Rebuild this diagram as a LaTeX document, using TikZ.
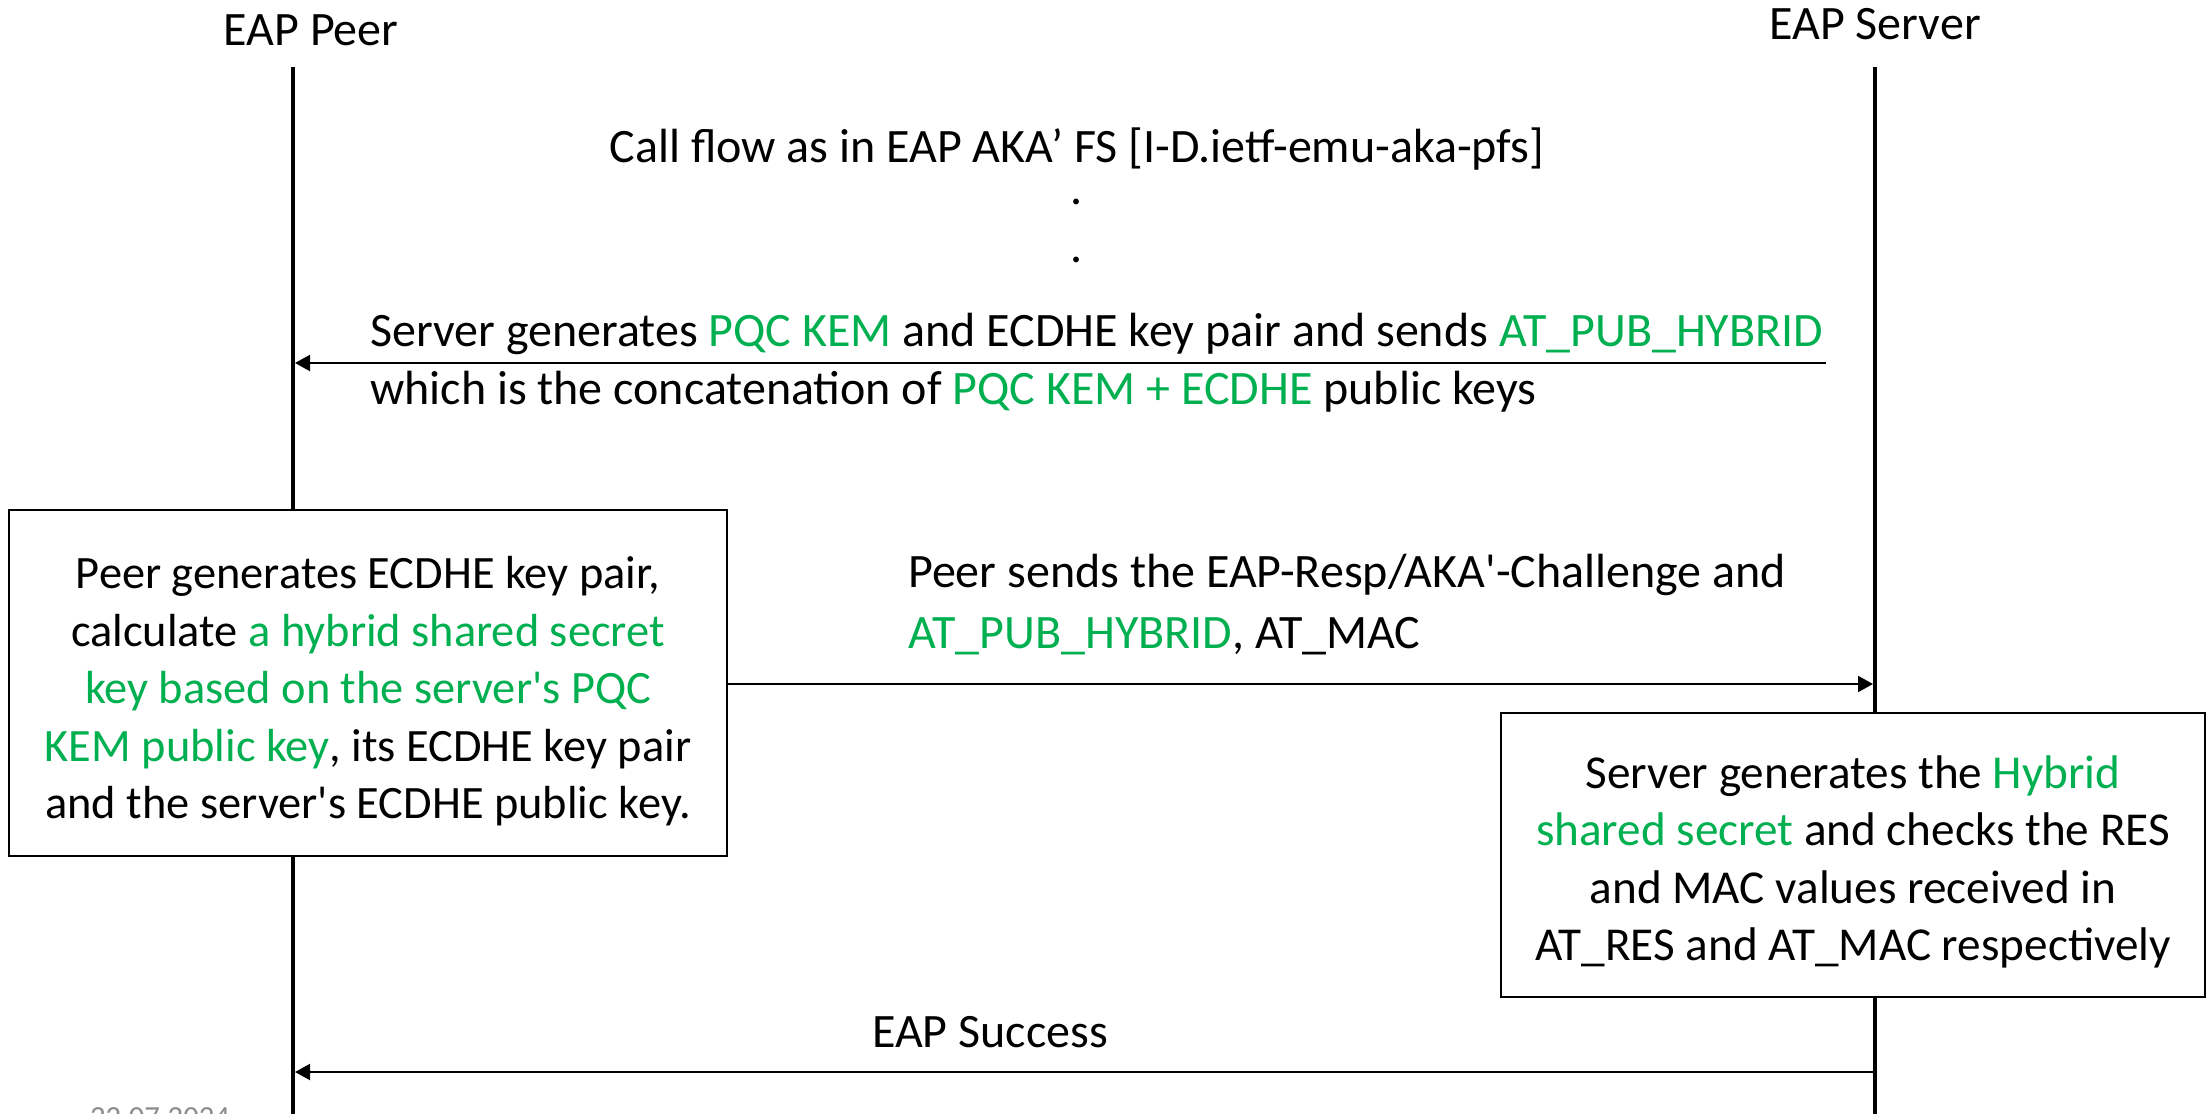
\documentclass[tikz,border=0pt]{standalone}
\usepackage{fontspec}
\setmainfont{Carlito}[Ligatures=TeXOff]
\usetikzlibrary{arrows.meta,calc}
\definecolor{kgreen}{HTML}{00B050}
\definecolor{dategray}{HTML}{8C8C8C}
\newcommand{\gr}[1]{\textcolor{kgreen}{#1}}
\begin{document}
\begin{tikzpicture}[x=1pt,y=-1pt,
  txt/.style={inner sep=0pt, font=\fontsize{48}{57.5}\selectfont},
  lifeline/.style={line width=4pt},
  msg/.style={line width=2pt,-{Triangle[length=15pt,width=16pt]}},
  actbox/.style={draw, line width=2.5pt, fill=white, align=center, inner sep=0pt,
    font=\fontsize{47.2}{57.5}\selectfont}]
\useasboundingbox[fill=white] (0,0) rectangle (2212,1114);

% titles
\node[txt, anchor=base] (peer) at (311,45) {EAP Peer};
\node[txt, anchor=base] (server) at (1875,39) {EAP Server};

% lifelines
\coordinate (ptop) at (293,67);
\coordinate (pbot) at (293,1114);
\coordinate (stop) at (1875,67);
\coordinate (sbot) at (1875,1114);
\draw[lifeline] (ptop) -- (pbot);
\draw[lifeline] (stop) -- (sbot);

% header text
\node[txt, anchor=base, align=center] (flow) at (1077,262)
  {Call flow as in EAP AKA’ FS [I-D.ietf-emu-aka-pfs]\\[-15.5pt].\\.};

% message 1
\coordinate (m1s) at (1826,363);
\coordinate (m1e) at (295,363);
\draw[msg] (m1s) -- (m1e);
\node[txt, anchor=base west] (m1a) at (370,346)
  {Server generates \gr{PQC KEM} and ECDHE key pair and sends \gr{AT\_PUB\_HYBRID}};
\node[txt, anchor=base west] (m1b) at (370,404)
  {which is the concatenation of \gr{PQC KEM + ECDHE} public keys};

% peer box
\node[actbox, font=\fontsize{46.4}{57.5}\selectfont, minimum width=718pt, minimum height=346pt] (pbox) at (368,683)
  {\rule{0pt}{49pt}Peer generates ECDHE key pair,\\
   calculate \gr{a hybrid shared secret}\\
   \gr{key based on the server's PQC}\\
   \gr{KEM public key}, its ECDHE key pair\\
   and the server's ECDHE public key.};

% message 2
\coordinate (m2e) at (1873,684);
\draw[msg] (pbox.east |- m2e) -- (m2e);
\node[txt, anchor=base west] (m2a) at (908,587)
  {Peer sends the EAP-Resp/AKA'-Challenge and};
\node[txt, anchor=base west] (m2b) at (908,648)
  {\gr{AT\_PUB\_HYBRID}, AT\_MAC};

% server box
\node[actbox, minimum width=704pt, minimum height=284pt] (sbox) at (1853,855)
  {\rule{0pt}{47pt}Server generates the \gr{Hybrid}\\
   \gr{shared secret} and checks the RES\\
   and MAC values received in\\
   AT\_RES and AT\_MAC respectively};

% message 3
\coordinate (m3s) at (1875,1072);
\coordinate (m3e) at (295,1072);
\draw[msg] (m3s) -- (m3e);
\node[txt, anchor=base] (m3) at (990,1047) {EAP Success};

% date
\node[inner sep=0pt, anchor=base, text=dategray, font=\fontsize{30.7}{36}\selectfont]
  (date) at (160,1127) {22.07.2024};
\end{tikzpicture}
\end{document}
